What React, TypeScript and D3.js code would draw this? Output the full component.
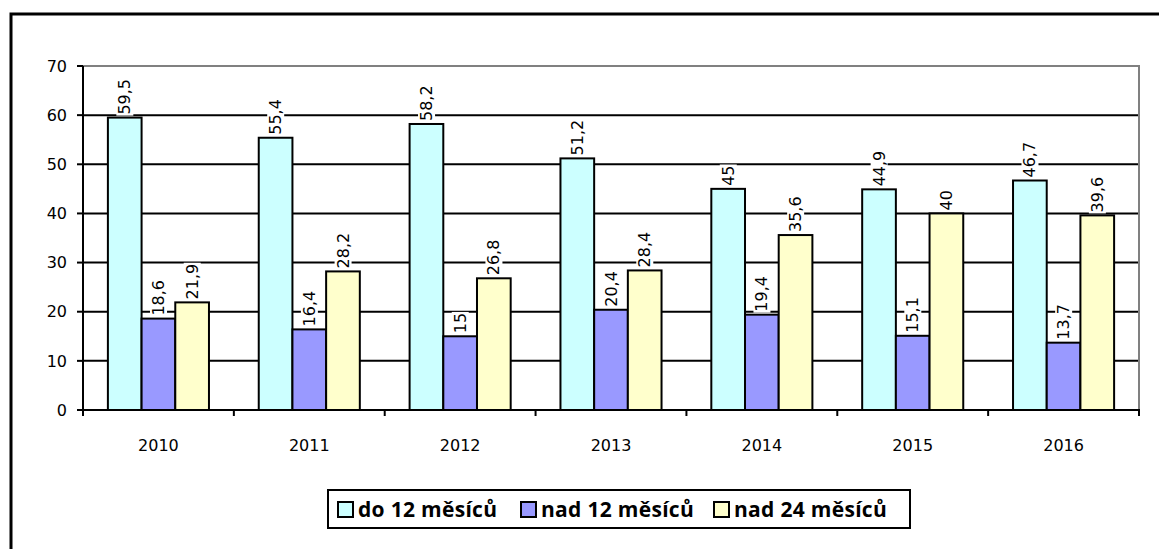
import React, { useRef, useEffect } from 'react';
import * as d3 from 'd3';

const years = ['2010', '2011', '2012', '2013', '2014', '2015', '2016'];
const seriesNames = ['do 12 měsíců', 'nad 12 měsíců', 'nad 24 měsíců'];
const do12 = [59.5, 55.4, 58.2, 51.2, 45, 44.9, 46.7];
const nad12 = [18.6, 16.4, 15, 20.4, 19.4, 15.1, 13.7];
const nad24 = [21.9, 28.2, 26.8, 28.4, 35.6, 40, 39.6];
const yTicks = [0, 10, 20, 30, 40, 50, 60, 70];
const colors = ['#CCFFFF', '#9999FF', '#FFFFCC'];

export default function App() {
    const svgRef = useRef<SVGSVGElement>(null);

    useEffect(() => {
        const w = 1159;
        const h = 549;
        const svg = d3.select(svgRef.current);
        svg.selectAll('*').remove();
        svg.attr('width', w).attr('height', h);

        const font = 'DejaVu Sans, Verdana, sans-serif';
        const legFont = 'Open Sans, Lato, sans-serif';

        // outer frame
        svg.append('rect').attr('x', 0).attr('y', 0).attr('width', w).attr('height', h).attr('fill', 'white');
        svg.append('path')
            .attr('d', `M11,${h} L11,14 L${w},14`)
            .attr('fill', 'none')
            .attr('stroke', 'black')
            .attr('stroke-width', 3);

        // plot area
        const left = 83, right = 1139, top = 66, bottom = 410;

        const x0 = d3.scaleBand().domain(years).range([left, right]);
        const inner = 0.67;
        const x1 = d3.scaleBand().domain(seriesNames)
            .range([(x0.bandwidth() * (1 - inner)) / 2, (x0.bandwidth() * (1 + inner)) / 2]);
        const y = d3.scaleLinear().domain([0, 70]).range([bottom, top]);

        // gridlines
        svg.append('g').selectAll('line')
            .data(yTicks.filter(t => t > 0 && t < 70))
            .join('line')
            .attr('x1', left).attr('x2', right)
            .attr('y1', d => y(d)).attr('y2', d => y(d))
            .attr('stroke', 'black').attr('stroke-width', 2);

        // plot border (top / right gray)
        svg.append('path')
            .attr('d', `M${left},${top} L${right},${top} L${right},${bottom}`)
            .attr('fill', 'none').attr('stroke', '#808080').attr('stroke-width', 2);

        const series = [do12, nad12, nad24];
        const g = svg.append('g');
        series.forEach((vals, si) => {
            g.selectAll(`.bar${si}`)
                .data(vals)
                .join('rect')
                .attr('class', `bar${si}`)
                .attr('x', (d, i) => (x0(years[i]) as number) + (x1(seriesNames[si]) as number))
                .attr('y', d => y(d))
                .attr('width', x1.bandwidth())
                .attr('height', d => bottom - y(d))
                .attr('fill', colors[si])
                .attr('stroke', 'black')
                .attr('stroke-width', 2);
        });

        // value labels, rotated, on white background
        const lg = svg.append('g');
        series.forEach((vals, si) => {
            vals.forEach((v, i) => {
                const cx = (x0(years[i]) as number) + (x1(seriesNames[si]) as number) + x1.bandwidth() / 2;
                const by = y(v) - 3;
                const gg = lg.append('g').attr('transform', `translate(${cx},${by}) rotate(-90)`);
                const bg = gg.append('rect').attr('fill', 'white');
                const t = gg.append('text')
                    .attr('x', 0).attr('y', 0)
                    .attr('dy', '0.35em')
                    .attr('font-family', font)
                    .attr('font-size', 16)
                    .attr('fill', 'black')
                    .text(String(v).replace('.', ','));
                const bb = (t.node() as SVGTextElement).getBBox();
                bg.attr('x', bb.x - 1).attr('y', bb.y + 1).attr('width', bb.width + 2).attr('height', bb.height - 2);
            });
        });

        // axes
        svg.append('line').attr('x1', left).attr('x2', left).attr('y1', top).attr('y2', bottom + 1)
            .attr('stroke', 'black').attr('stroke-width', 2);
        svg.append('line').attr('x1', left - 1).attr('x2', right + 1).attr('y1', bottom).attr('y2', bottom)
            .attr('stroke', 'black').attr('stroke-width', 2);

        svg.append('g').selectAll('line')
            .data(yTicks)
            .join('line')
            .attr('x1', left - 6).attr('x2', left)
            .attr('y1', d => y(d)).attr('y2', d => y(d))
            .attr('stroke', 'black').attr('stroke-width', 2);

        svg.append('g').selectAll('text')
            .data(yTicks)
            .join('text')
            .attr('x', 67)
            .attr('y', d => y(d))
            .attr('dy', '0.36em')
            .attr('text-anchor', 'end')
            .attr('font-family', font)
            .attr('font-size', 16)
            .text(d => d);

        const xTickPos = years.map(yr => x0(yr) as number).concat([right]);
        svg.append('g').selectAll('line')
            .data(xTickPos)
            .join('line')
            .attr('x1', d => d).attr('x2', d => d)
            .attr('y1', bottom).attr('y2', bottom + 6)
            .attr('stroke', 'black').attr('stroke-width', 2);

        svg.append('g').selectAll('text')
            .data(years)
            .join('text')
            .attr('x', d => (x0(d) as number) + x0.bandwidth() / 2)
            .attr('y', 451)
            .attr('text-anchor', 'middle')
            .attr('font-family', font)
            .attr('font-size', 16)
            .text(d => d);

        // legend
        const legX = 328, legY = 490, legW = 582, legH = 38;
        svg.append('rect')
            .attr('x', legX).attr('y', legY).attr('width', legW).attr('height', legH)
            .attr('fill', 'white').attr('stroke', 'black').attr('stroke-width', 2);
        const legItemX = [338, 521, 714];
        seriesNames.forEach((name, si) => {
            svg.append('rect')
                .attr('x', legItemX[si]).attr('y', legY + 12)
                .attr('width', 15).attr('height', 15)
                .attr('fill', colors[si]).attr('stroke', 'black').attr('stroke-width', 2);
            svg.append('text')
                .attr('x', legItemX[si] + 20).attr('y', legY + 27)
                .attr('font-family', legFont)
                .attr('font-weight', 'bold')
                .attr('font-size', 21)
                .attr('letter-spacing', 0.3)
                .text(name);
        });
    }, []);

    return (
        <div style={{ position: 'absolute', left: 0, top: 0 }}>
            <svg ref={svgRef}></svg>
        </div>
    );
}
